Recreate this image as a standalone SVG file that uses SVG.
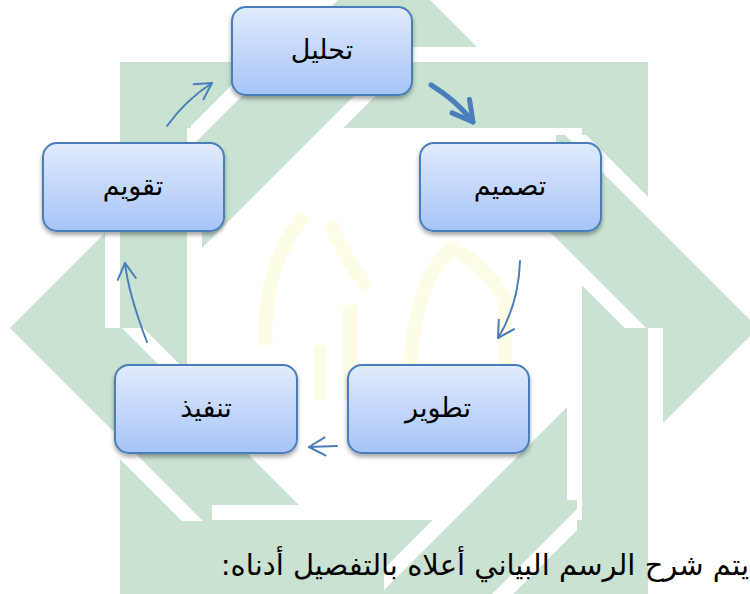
<svg xmlns="http://www.w3.org/2000/svg" width="750" height="594" viewBox="0 0 750 594">
<style>
.wm{fill:#c9e2d2}
.wmo{fill:#c9e2d2;stroke:#ffffff;stroke-width:30;paint-order:stroke;stroke-linejoin:miter}
.yl{fill:none;stroke:#fefce6;stroke-width:14}
.box{fill:url(#bg);stroke:#4a7ebb;stroke-width:2;filter:url(#sh)}
.lbl{font-family:"DejaVu Sans",sans-serif;font-size:27px;fill:#000;text-anchor:middle}
.con{fill:none;stroke:#4a7ebb;stroke-width:2;stroke-linecap:round}
.thick{stroke-width:5}
</style>
<defs>
<linearGradient id="bg" x1="0" y1="0" x2="0" y2="1">
<stop offset="0" stop-color="#e1ebfd"/>
<stop offset="1" stop-color="#a6c4f7"/>
</linearGradient>
<filter id="sh" x="-10%" y="-10%" width="120%" height="130%">
<feDropShadow dx="0" dy="3" stdDeviation="2" flood-color="#000" flood-opacity="0.35"/>
</filter>
<marker id="ah" markerUnits="userSpaceOnUse" viewBox="-20 -12 24 24" markerWidth="24" markerHeight="24" refX="0" refY="0" orient="auto">
<path d="M-16,-9 L0,0 L-16,9" fill="none" stroke="#4a7ebb" stroke-width="2" stroke-linecap="round" stroke-linejoin="round"/>
</marker>
<marker id="ahT" markerUnits="userSpaceOnUse" viewBox="-26 -16 30 32" markerWidth="30" markerHeight="32" refX="0" refY="0" orient="auto">
<path d="M-20,-11 L0,0 L-20,11" fill="none" stroke="#4a7ebb" stroke-width="5" stroke-linecap="round" stroke-linejoin="round"/>
</marker>
<path id="sq" d="M120,62 H648 V600 H120 Z M187,128 H582 V520 H187 Z" fill-rule="evenodd"/>
<path id="dm" d="M10,328 L384,-46 L758,328 L384,702 Z M122,328 L384,66 L646,328 L384,590 Z" fill-rule="evenodd"/>
<clipPath id="sUL"><rect x="95" y="135" width="117" height="193"/></clipPath>
<clipPath id="sUR"><rect x="384" y="39" width="193" height="117"/></clipPath>
<clipPath id="sLR"><rect x="556" y="328" width="117" height="193"/></clipPath>
<clipPath id="sLL"><rect x="191" y="500" width="193" height="117"/></clipPath>
<clipPath id="dUL"><rect x="191" y="39" width="193" height="117"/></clipPath>
<clipPath id="dUR"><rect x="556" y="135" width="117" height="193"/></clipPath>
<clipPath id="dLR"><rect x="384" y="500" width="193" height="117"/></clipPath>
<clipPath id="dLL"><rect x="95" y="328" width="117" height="193"/></clipPath>
</defs>
<rect width="750" height="594" fill="#ffffff"/>
<g id="watermark">
<use href="#sq" class="wm" fill-rule="evenodd"/>
<use href="#dm" class="wm" fill-rule="evenodd"/>
<g clip-path="url(#sUL)"><use href="#sq" class="wmo"/></g>
<g clip-path="url(#sUR)"><use href="#sq" class="wmo"/></g>
<g clip-path="url(#sLR)"><use href="#sq" class="wmo"/></g>
<g clip-path="url(#sLL)"><use href="#sq" class="wmo"/></g>
<g clip-path="url(#dUL)"><use href="#dm" class="wmo"/></g>
<g clip-path="url(#dUR)"><use href="#dm" class="wmo"/></g>
<g clip-path="url(#dLR)"><use href="#dm" class="wmo"/></g>
<g clip-path="url(#dLL)"><use href="#dm" class="wmo"/></g>
<path class="yl" d="M266,345 C262,290 280,240 306,215"/>
<path class="yl" d="M330,222 C340,250 355,270 368,288"/>
<path class="yl" d="M320,345 L320,400 M350,305 L350,400"/>
<path class="yl" d="M408,400 C410,320 425,270 452,248 C475,260 495,280 505,300 L505,400"/>
</g>
<g id="connectors">
<path class="con thick" d="M431,85 Q456,100 473,122" marker-end="url(#ahT)"/>
<path class="con" d="M520,261 C519,290 511,317 498,338" marker-end="url(#ah)"/>
<path class="con" d="M337,446 L309,447" marker-end="url(#ah)"/>
<path class="con" d="M147,342 C137,316 128,290 125,263" marker-end="url(#ah)"/>
<path class="con" d="M167,126 C180,108 195,94 212,83" marker-end="url(#ah)"/>
</g>
<g id="n-tahlil">
<rect class="box" x="232" y="7" width="180" height="88" rx="14"/>
<text class="lbl" x="322" y="59">تحليل</text>
</g>
<g id="n-tasmim">
<rect class="box" x="420" y="143" width="181" height="88" rx="14"/>
<text class="lbl" x="510" y="195">تصميم</text>
</g>
<g id="n-tathwir">
<rect class="box" x="348" y="365" width="181" height="88" rx="14"/>
<text class="lbl" x="438" y="417">تطوير</text>
</g>
<g id="n-tanfidz">
<rect class="box" x="115" y="365" width="182" height="88" rx="14"/>
<text class="lbl" x="206" y="417">تنفيذ</text>
</g>
<g id="n-taqwim">
<rect class="box" x="43" y="143" width="181" height="88" rx="14"/>
<text class="lbl" x="133" y="195">تقويم</text>
</g>
<text x="749" y="575" font-family="DejaVu Sans, sans-serif" font-size="29" text-anchor="end" fill="#000">يتم شرح الرسم البياني أعلاه بالتفصيل أدناه:&#x200F;</text>
</svg>
